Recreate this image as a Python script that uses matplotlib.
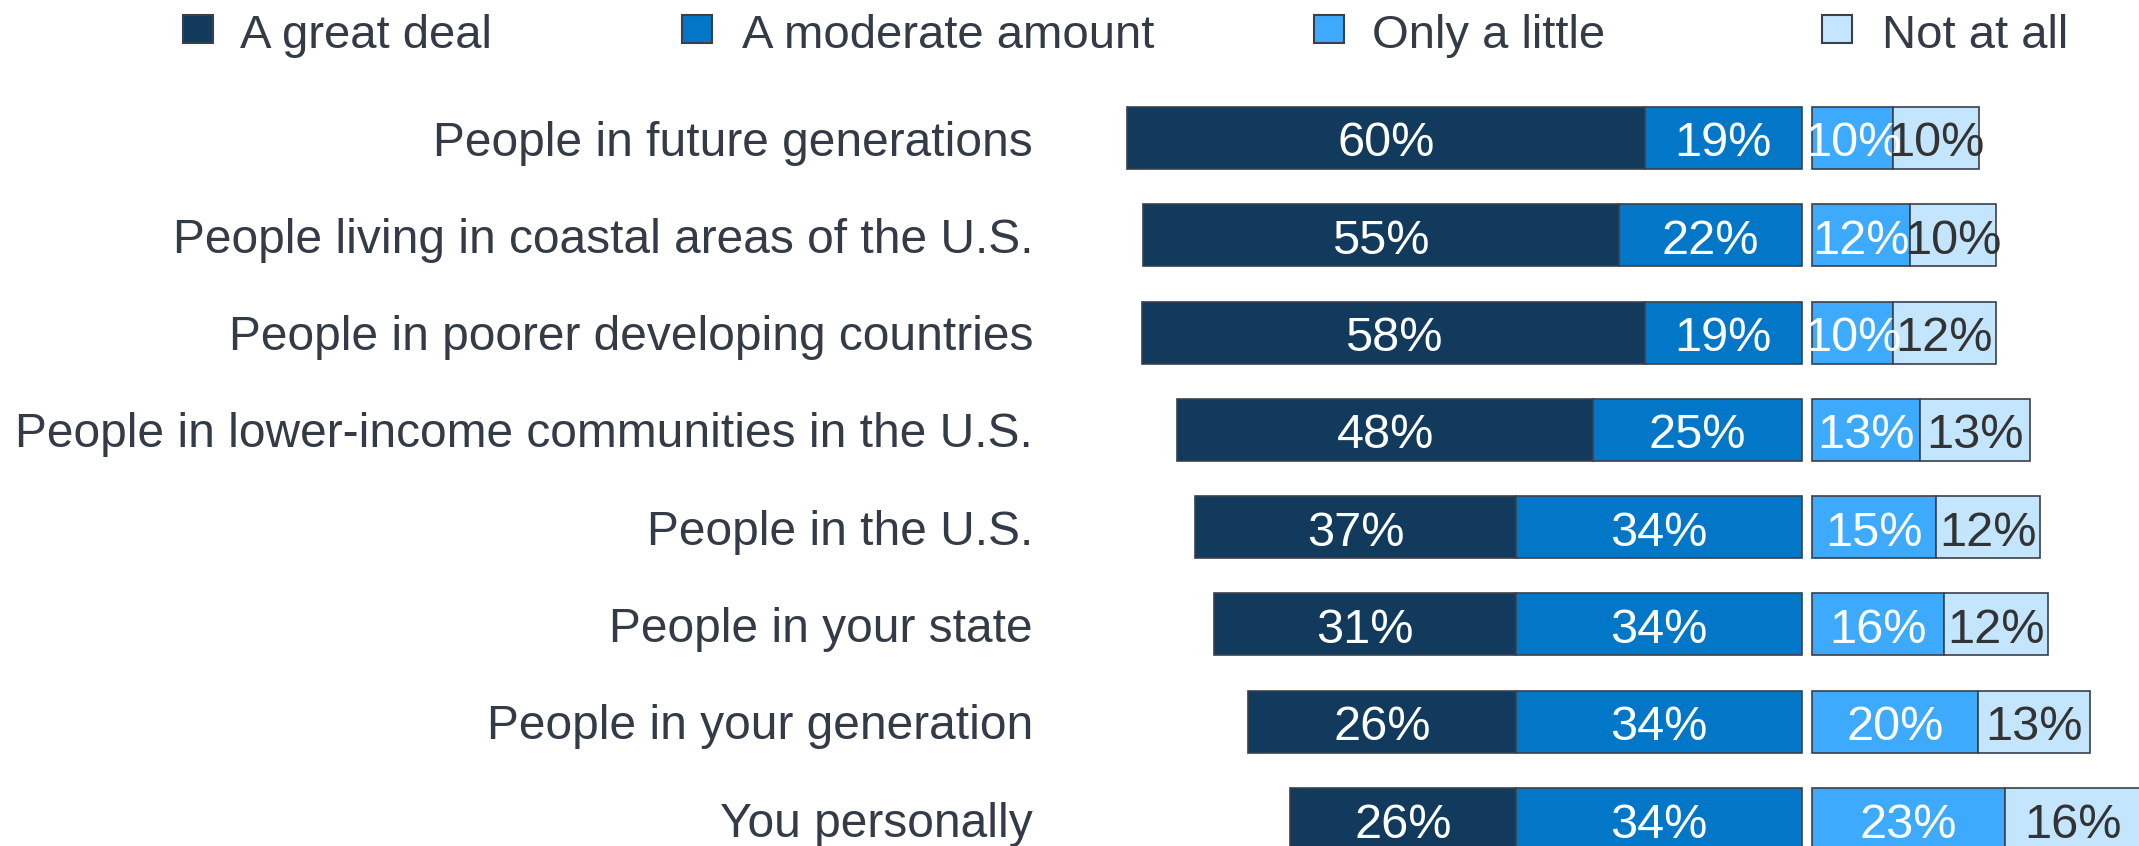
import numpy as np
import matplotlib.pyplot as plt
from matplotlib.patches import Rectangle

plt.rcParams['font.family'] = ['Liberation Sans', 'DejaVu Sans']

categories = ['People in future generations',
              'People living in coastal areas of the U.S.',
              'People in poorer developing countries',
              'People in lower-income communities in the U.S.',
              'People in the U.S.',
              'People in your state',
              'People in your generation',
              'You personally']
series_names = ['A great deal', 'A moderate amount', 'Only a little', 'Not at all']

# bar lengths as drawn in the picture (%)
great_deal = np.array([60.9, 56.0, 59.1, 48.9, 37.8, 35.6, 31.6, 26.5])
moderate = np.array([18.5, 21.5, 18.5, 24.6, 33.6, 33.6, 33.6, 33.7])
little = np.array([9.5, 11.5, 9.5, 12.7, 14.6, 15.5, 19.5, 22.7])
not_at_all = np.array([10.1, 10.1, 12.1, 12.9, 12.2, 12.2, 13.2, 16.0])

# printed labels
great_lbl = [60, 55, 58, 48, 37, 31, 26, 26]
moderate_lbl = [19, 22, 19, 25, 34, 34, 34, 34]
little_lbl = [10, 12, 10, 13, 15, 16, 20, 23]
not_lbl = [10, 10, 12, 13, 12, 12, 13, 16]

colors = ['#113a5d', '#0277c8', '#3daafd', '#c4e5fe']
edge = '#3a404b'
text_col = '#333b47'

W, H = 2139, 846
fig = plt.figure(figsize=(W / 100, H / 100), dpi=100)
ax = fig.add_axes([1045 / W, 0, 1 - 1045 / W, (H - 70) / H])
ax.set_xlim(-89.06, 39.65)
ax.set_ylim(7.277, -0.699)

y = np.arange(len(categories))
bh = 0.637
gap = 1.2

ax.barh(y, great_deal, left=-(great_deal + moderate), height=bh, color=colors[0], edgecolor=edge, lw=1.2)
ax.barh(y, moderate, left=-moderate, height=bh, color=colors[1], edgecolor=edge, lw=1.2)
ax.barh(y, little, left=gap, height=bh, color=colors[2], edgecolor=edge, lw=1.2)
ax.barh(y, not_at_all, left=gap + little, height=bh, color=colors[3], edgecolor=edge, lw=1.2)

# percent labels
for i in y:
    segs = [(-(great_deal[i] + moderate[i]), great_deal[i], great_lbl[i], 'white'),
            (-moderate[i], moderate[i], moderate_lbl[i], 'white'),
            (gap, little[i], little_lbl[i], 'white'),
            (gap + little[i], not_at_all[i], not_lbl[i], '#333333')]
    for left, w, lbl, c in segs:
        ax.text(left + w / 2, i + 0.01, f'{lbl}%', ha='center', va='center_baseline',
                fontsize=35, color=c, clip_on=False)

ax.set_yticks(y)
ax.set_yticklabels(categories, fontsize=34.5, color=text_col)
for t in ax.get_yticklabels():
    t.set_va('center_baseline')
ax.tick_params(axis='y', length=0, pad=8.6)
ax.set_xticks([])
for s in ax.spines.values():
    s.set_visible(False)

# legend
sq_x = [183, 682, 1314, 1822]
txt_x = [240, 742, 1372, 1882]
for xs, xt, name, c in zip(sq_x, txt_x, series_names, colors):
    fig.patches.append(Rectangle((xs / W, 1 - 43 / H), 30 / W, 28 / H, transform=fig.transFigure,
                                 facecolor=c, edgecolor=edge, lw=1.5))
    fig.text(xt / W, 1 - 48 / H, name, va='baseline', ha='left', fontsize=34, color=text_col)

fig.savefig('out.png', dpi=100)
